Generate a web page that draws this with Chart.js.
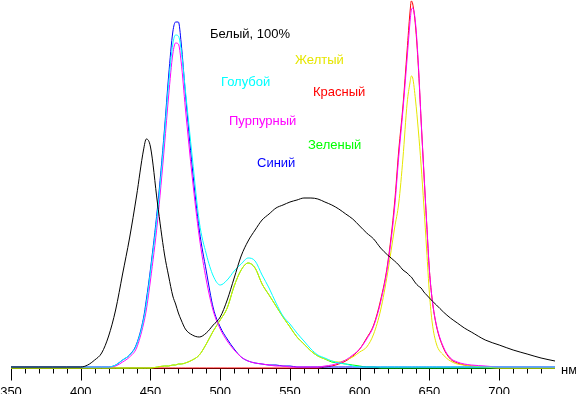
<!DOCTYPE html>
<html>
<head>
<meta charset="utf-8">
<script src="https://cdn.jsdelivr.net/npm/chart.js@4/dist/chart.umd.min.js"></script>
<style>
html, body { margin: 0; padding: 0; background: #fff; }
#spectrum { display: block; }
</style>
</head>
<body>
<canvas id="spectrum" width="576" height="394"></canvas>
<script>
// длина волны, нм
var wavelengths = [350,360,370,380,390,400,405,410,415,420,425,430,435,440,445,447,450,455,460,
  463,466,468,470,472,475,480,485,490,495,500,505,510,515,520,525,530,535,540,545,550,555,560,
  565,570,575,580,585,590,595,600,605,610,615,620,625,628,631,634,636,637,638,640,642,644,646,
  648,650,652,655,660,665,670,675,680,690,700,710,720,730,740];

// относительная интенсивность
var white = [1,1,1,1,1,1,3,8,15,32,58,94,130,172,218,229,221,165,114,
  92,72,64,55,48,39,33,31,35,43,51,68,90,112,127,138,148,154,160,163,166,168,170,
  170,169,166,163,159,154,149,142,135,129,120,113,107,103,98,95,92,91,89,85,82,80,76,
  73,70,67,63,56,50,45,40,36,28,23,18,14,10,7];

var blue = [1,1,1,1,1,1,1,1,1,1,3,8,13,24,50,68,99,160,238,
  292,336,346,346,325,275,200,138,97,60,41,29,19,11,7,5,4,3,3,2,2,1,1,
  1,1,1,1,1,1,1,1,1,1,1,1,1,1,1,1,1,1,1,1,1,1,1,
  1,1,1,1,1,1,1,1,1,1,1,1,1,1,1];

var cyan = [1,1,1,1,1,1,1,1,1,1,3,8,13,23,48,64,96,155,233,
  284,324,333,332,318,278,210,146,114,92,83,88,97,104,110,107,93,80,65,52,44,35,27,
  19,13,10,7,5,4,2,1,1,1,1,1,1,1,1,1,1,1,1,1,1,1,1,
  1,1,1,1,1,1,1,1,1,1,1,1,1,1,1];

var magenta = [1,1,1,1,1,1,1,1,1,1,2,6,11,20,44,58,88,146,222,
  272,314,325,324,306,260,190,131,88,57,39,27,18,11,7,5,4,3,2,2,1,1,1,
  1,1,2,3,5,8,13,19,29,42,66,102,160,212,258,310,345,358,360,345,305,248,196,
  145,97,68,43,21,10,6,4,3,2,1,1,1,1,1];

var red = [0,0,0,0,0,0,0,0,0,0,0,0,0,0,0,0,0,0,0,
  0,0,0,0,0,0,0,0,0,0,0,0,0,0,0,0,0,0,0,0,0,0,0,
  0,0,1,2,4,7,12,19,30,43,68,104,165,218,262,318,355,367,364,342,302,248,195,
  145,97,68,42,20,9,5,3,2,1,0,0,0,0,0];

var green = [0,0,0,0,0,0,0,0,0,0,0,0,0,0,0,0,0,1,2,
  2,3,3,4,4,5,8,13,24,37,48,60,82,98,105,100,84,73,62,51,41,31,24,
  17,12,9,6,5,4,3,2,1,1,0,0,0,0,0,0,0,0,0,0,0,0,0,
  0,0,0,0,0,0,0,0,0,0,0,0,0,0,0];

var yellow = [0,0,0,0,0,0,0,0,0,0,0,0,0,0,0,0,0,1,2,
  2,3,3,4,4,5,8,13,24,37,48,60,82,98,105,100,84,73,62,51,41,31,24,
  17,12,9,7,6,8,11,16,21,34,58,95,140,165,210,265,285,292,290,268,238,203,162,
  118,74,45,24,13,7,4,3,2,1,0,0,0,0,0];

var tickLabels = [350, 400, 450, 500, 550, 600, 650, 700];

// порядок: первый рисуется поверх остальных
var series = [
  { name: 'Белый, 100%', values: white, color: '#000000' },
  { name: 'Голубой', values: cyan, color: '#00ffff' },
  { name: 'Пурпурный', values: magenta, color: '#ff00ff' },
  { name: 'Желтый', values: yellow, color: '#e6e600' },
  { name: 'Синий', values: blue, color: '#0000ff' },
  { name: 'Зеленый', values: green, color: '#00ff00' },
  { name: 'Красный', values: red, color: '#ff0000' }
];

// подписи кривых: текст, цвет, x, y
var captions = [
  ['Белый, 100%', '#000000', 210, 34],
  ['Желтый', '#e6e600', 295, 60],
  ['Голубой', '#00ffff', 221, 82],
  ['Красный', '#ff0000', 313, 92],
  ['Пурпурный', '#ff00ff', 229, 121],
  ['Зеленый', '#00ff00', 308, 145],
  ['Синий', '#0000ff', 257, 163]
];

var fontFamily = '"Liberation Sans", Arial, sans-serif';

var datasets = series.map(function (s) {
  return {
    label: s.name,
    data: wavelengths.map(function (w, i) { return { x: w, y: s.values[i] }; }),
    borderColor: s.color,
    borderWidth: 1,
    pointRadius: 0,
    fill: false,
    cubicInterpolationMode: 'monotone',
    clip: false
  };
});

var axisPlugin = {
  id: 'axisTicks',
  beforeDatasetsDraw: function (chart) {
    var ctx = chart.ctx, sx = chart.scales.x, area = chart.chartArea;
    var y0 = Math.round(area.bottom) + 0.5;
    ctx.save();
    ctx.strokeStyle = '#000';
    ctx.lineWidth = 1;
    ctx.beginPath();
    ctx.moveTo(area.left, y0);
    ctx.lineTo(area.right, y0);
    sx.ticks.forEach(function (t) {
      if (t.value > 735) return;
      var px = Math.round(sx.getPixelForValue(t.value)) + 0.5;
      ctx.moveTo(px, y0);
      ctx.lineTo(px, y0 + (tickLabels.indexOf(t.value) >= 0 ? 12 : 5));
    });
    ctx.stroke();
    ctx.restore();
  },
  afterDraw: function (chart) {
    var ctx = chart.ctx;
    ctx.save();
    ctx.font = '13px ' + fontFamily;
    ctx.textAlign = 'left';
    ctx.textBaseline = 'middle';
    captions.forEach(function (c) {
      ctx.fillStyle = c[1];
      ctx.fillText(c[0], c[2], c[3]);
    });
    ctx.fillStyle = '#000';
    ctx.fillText('нм', 561, 370);
    ctx.restore();
  }
};

var ctx = document.getElementById('spectrum').getContext('2d');
var spectrumChart = new Chart(ctx, {
  type: 'line',
  data: { datasets: datasets },
  options: {
    responsive: false,
    animation: false,
    devicePixelRatio: 1,
    layout: { padding: { left: 11, right: 21, top: 0, bottom: 0 } },
    plugins: { legend: { display: false }, tooltip: { enabled: false } },
    scales: {
      x: {
        type: 'linear',
        min: 350,
        max: 740,
        grid: { display: false, drawTicks: false },
        border: { display: false },
        afterFit: function (scale) {
          scale.height = 26;
          scale.paddingLeft = 0;
          scale.paddingRight = 0;
        },
        ticks: {
          stepSize: 10,
          autoSkip: false,
          maxRotation: 0,
          padding: 17,
          color: '#000',
          font: { family: fontFamily, size: 13 },
          callback: function (v) { return tickLabels.indexOf(v) >= 0 ? String(v) : ''; }
        }
      },
      y: {
        display: false,
        min: 0,
        max: 368
      }
    }
  },
  plugins: [axisPlugin]
});
</script>
</body>
</html>
